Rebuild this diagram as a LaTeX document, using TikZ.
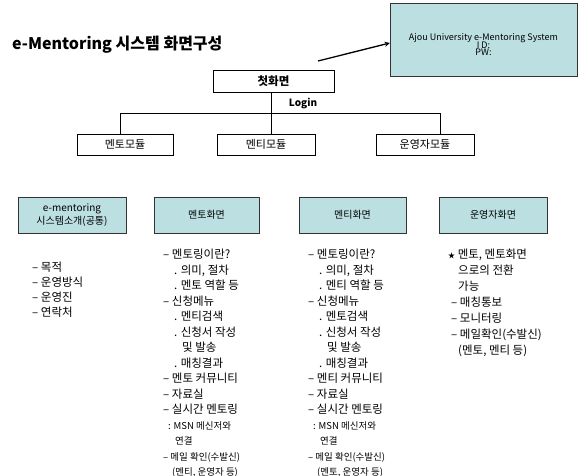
\documentclass[tikz,border=0pt]{standalone}
\usepackage{fontspec}
\setmainfont{Noto Sans CJK KR}
\definecolor{screenfill}{RGB}{188,224,226}

\begin{document}
\begin{tikzpicture}[x=1pt, y=-1pt,
  modbox/.style={draw, inner sep=0pt, minimum height=21pt, font=\fontsize{11}{13}\selectfont},
  screenbox/.style={draw=black!80, fill=screenfill, inner sep=0pt, minimum height=36pt, align=center, font=\fontsize{10}{13}\selectfont},
  itemlist/.style={anchor=north west, inner sep=0pt, align=left, font=\fontsize{11.5}{15.5}\selectfont}]

\useasboundingbox (0,0) rectangle (581,476);

\node[anchor=west, inner sep=0pt, font=\bfseries\fontsize{16}{18}\selectfont] (title) at (12, 45) {e-Mentoring 시스템 화면구성};

\node[draw=black!80, fill=screenfill, minimum width=187pt, minimum height=73pt, inner sep=0pt] (sysbox) at (483.5, 39.5) {\parbox{180pt}{\centering\fontsize{9}{7.5}\selectfont\lineskiplimit=-20pt
  \rule{0pt}{18pt}Ajou University e-Mentoring System\\I D:\\PW:}};
\node[draw, minimum width=121pt, minimum height=22pt, inner sep=0pt, font=\bfseries\fontsize{11.5}{13}\selectfont] (start) at (273.5, 81) {첫화면};
\node[font=\bfseries\fontsize{10}{12}\selectfont, inner sep=0pt] (login) at (303, 104) {Login};

\node[modbox, minimum width=96pt] (mentormod) at (125, 144.5) {멘토모듈};
\node[modbox, minimum width=98pt] (menteemod) at (266, 144.5) {멘티모듈};
\node[modbox, minimum width=98pt] (adminmod) at (425, 144.5) {운영자모듈};

\node[screenbox, minimum width=108pt] (intro) at (72, 215) {e-mentoring\\시스템소개(공통)};
\node[screenbox, minimum width=105pt] (mentorscr) at (206.5, 215) {멘토화면};
\node[screenbox, minimum width=107pt] (menteescr) at (352.5, 215) {멘티화면};
\node[screenbox, minimum width=108pt] (adminscr) at (493, 215) {운영자화면};

% login arrow
\coordinate (arrowtail) at (318, 61);
\draw[-stealth, line width=1.3pt] (arrowtail) -- ([yshift=-3.5pt]sysbox.west);

% tree under the first screen
\coordinate (split) at (271, 113);
\coordinate (lft) at (120, 113);
\coordinate (rgt) at (440, 113);
\draw (split |- start.south) -- (split |- menteemod.north);
\draw (lft |- mentormod.north) -- (lft) -- (rgt) -- (rgt |- adminmod.north);

% lists
\node[itemlist, font=\fontsize{11.5}{15}\selectfont] (introlist) at (32, 262) {%
– 목적\\
– 운영방식\\
– 운영진\\
– 연락처};

\node[itemlist] (mentorlist) at (163, 249) {%
– 멘토링이란?\\
\hspace*{11pt}. 의미, 절차\\
\hspace*{11pt}. 멘토 역할 등\\
– 신청메뉴\\
\hspace*{11pt}. 멘티검색\\
\hspace*{11pt}. 신청서 작성\\
\hspace*{19pt}및 발송\\
\hspace*{11pt}. 매칭결과\\
– 멘토 커뮤니티\\
– 자료실\\
– 실시간 멘토링\\
{\fontsize{9.5}{15.5}\selectfont\hspace*{5pt}: MSN 메신저와}\\
{\fontsize{9.5}{15.5}\selectfont\hspace*{12pt}연결}\\
{\fontsize{9.5}{15.5}\selectfont – 메일 확인(수발신)}\\
{\fontsize{9.5}{15.5}\selectfont\hspace*{9pt}(멘티, 운영자 등)}};

\node[itemlist] (menteelist) at (308, 249) {%
– 멘토링이란?\\
\hspace*{11pt}. 의미, 절차\\
\hspace*{11pt}. 멘티 역할 등\\
– 신청메뉴\\
\hspace*{11pt}. 멘토검색\\
\hspace*{11pt}. 신청서 작성\\
\hspace*{19pt}및 발송\\
\hspace*{11pt}. 매칭결과\\
– 멘티 커뮤니티\\
– 자료실\\
– 실시간 멘토링\\
{\fontsize{9.5}{15.5}\selectfont\hspace*{5pt}: MSN 메신저와}\\
{\fontsize{9.5}{15.5}\selectfont\hspace*{12pt}연결}\\
{\fontsize{9.5}{15.5}\selectfont – 메일 확인(수발신)}\\
{\fontsize{9.5}{15.5}\selectfont\hspace*{9pt}(멘토, 운영자 등)}};

\node[itemlist, font=\fontsize{11.5}{16}\selectfont] (adminlist) at (448, 249) {%
{\fontsize{7}{16}\selectfont ★} 멘토, 멘토화면\\
\hspace*{10pt}으로의 전환\\
\hspace*{10pt}가능\\
\hspace*{3pt}– 매칭통보\\
\hspace*{3pt}– 모니터링\\
\hspace*{3pt}– 메일확인(수발신)\\
\hspace*{10pt}(멘토, 멘티 등)};

\end{tikzpicture}
\end{document}
